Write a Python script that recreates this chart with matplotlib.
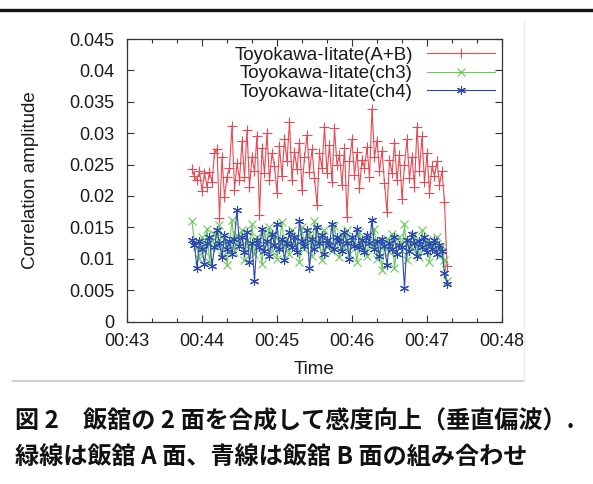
import numpy as np
import matplotlib.pyplot as plt
from matplotlib.ticker import MultipleLocator, FuncFormatter
from matplotlib.lines import Line2D

# time axis: first sample 00:43:52, one sample every 2 s
t_start = 43 * 60 + 52
t_step = 2

# Toyokawa-Iitate (A+B)
amp_ab = [0.0243, 0.0231, 0.0225, 0.0240, 0.0208, 0.0236, 0.0215, 0.0238, 0.0222, 0.0268,
          0.0275, 0.0165, 0.0262, 0.0198, 0.0230, 0.0245, 0.0312, 0.0210, 0.0252, 0.0226,
          0.0287, 0.0230, 0.0305, 0.0214, 0.0262, 0.0240, 0.0296, 0.0170, 0.0276, 0.0237,
          0.0300, 0.0225, 0.0268, 0.0248, 0.0205, 0.0279, 0.0232, 0.0290, 0.0255, 0.0318,
          0.0226, 0.0270, 0.0243, 0.0285, 0.0210, 0.0262, 0.0297, 0.0238, 0.0274, 0.0229,
          0.0185, 0.0268, 0.0245, 0.0310, 0.0236, 0.0281, 0.0222, 0.0308, 0.0250, 0.0265,
          0.0218, 0.0276, 0.0167, 0.0255, 0.0290, 0.0233, 0.0270, 0.0212, 0.0258, 0.0245,
          0.0278, 0.0230, 0.0339, 0.0262, 0.0288, 0.0240, 0.0272, 0.0220, 0.0175, 0.0258,
          0.0236, 0.0284, 0.0225, 0.0266, 0.0195, 0.0250, 0.0290, 0.0228, 0.0262, 0.0215,
          0.0310, 0.0240, 0.0295, 0.0222, 0.0268, 0.0205, 0.0247, 0.0232, 0.0255, 0.0218,
          0.0240, 0.0190, 0.0088]

# Toyokawa-Iitate (ch3)
amp_ch3 = [0.0160, 0.0125, 0.0118, 0.0100, 0.0135, 0.0112, 0.0148, 0.0095, 0.0128, 0.0140,
           0.0118, 0.0153, 0.0105, 0.0132, 0.0090, 0.0125, 0.0162, 0.0110, 0.0138, 0.0122,
           0.0145, 0.0098, 0.0130, 0.0115, 0.0155, 0.0108, 0.0135, 0.0120, 0.0092, 0.0142,
           0.0125, 0.0150, 0.0112, 0.0138, 0.0100, 0.0128, 0.0158, 0.0118, 0.0132, 0.0108,
           0.0145, 0.0122, 0.0135, 0.0095, 0.0150, 0.0115, 0.0128, 0.0140, 0.0105, 0.0160,
           0.0120, 0.0133, 0.0098, 0.0146, 0.0118, 0.0130, 0.0112, 0.0152, 0.0125, 0.0102,
           0.0138, 0.0118, 0.0145, 0.0108, 0.0130, 0.0122, 0.0095, 0.0142, 0.0115, 0.0128,
           0.0105, 0.0135, 0.0120, 0.0148, 0.0100, 0.0126, 0.0082, 0.0118, 0.0132, 0.0110,
           0.0140, 0.0085, 0.0122, 0.0135, 0.0112, 0.0155, 0.0098, 0.0128, 0.0116, 0.0138,
           0.0120, 0.0102, 0.0145, 0.0115, 0.0130, 0.0095, 0.0125, 0.0112, 0.0135, 0.0105,
           0.0120, 0.0098, 0.0065]

# Toyokawa-Iitate (ch4)
amp_ch4 = [0.0130, 0.0122, 0.0085, 0.0128, 0.0115, 0.0092, 0.0125, 0.0135, 0.0088, 0.0118,
           0.0145, 0.0125, 0.0102, 0.0138, 0.0115, 0.0128, 0.0108, 0.0132, 0.0178, 0.0120,
           0.0135, 0.0110, 0.0142, 0.0095, 0.0125, 0.0065, 0.0130, 0.0118, 0.0148, 0.0112,
           0.0128, 0.0105, 0.0140, 0.0122, 0.0155, 0.0115, 0.0132, 0.0098, 0.0125, 0.0142,
           0.0118, 0.0135, 0.0110, 0.0160, 0.0128, 0.0120, 0.0145, 0.0085, 0.0132, 0.0115,
           0.0150, 0.0125, 0.0138, 0.0108, 0.0130, 0.0122, 0.0155, 0.0115, 0.0135, 0.0128,
           0.0112, 0.0142, 0.0125, 0.0100, 0.0135, 0.0120, 0.0148, 0.0118, 0.0130, 0.0110,
           0.0138, 0.0125, 0.0162, 0.0115, 0.0128, 0.0105, 0.0132, 0.0120, 0.0090, 0.0125,
           0.0115, 0.0135, 0.0108, 0.0122, 0.0118, 0.0054, 0.0130, 0.0112, 0.0140, 0.0125,
           0.0105, 0.0128, 0.0118, 0.0135, 0.0110, 0.0125, 0.0115, 0.0130, 0.0108, 0.0122,
           0.0112, 0.0078, 0.0060]

labels = ['Toyokawa-Iitate(A+B)', 'Toyokawa-Iitate(ch3)', 'Toyokawa-Iitate(ch4)']
caption1 = '図 2　飯舘の 2 面を合成して感度向上（垂直偏波）.'
caption2 = '緑線は飯舘 A 面、青線は飯舘 B 面の組み合わせ'

t = t_start + t_step * np.arange(len(amp_ab))

plt.rcParams['font.family'] = ['Liberation Sans', 'DejaVu Sans']

fig = plt.figure(figsize=(5.93, 4.84), dpi=100)
W, H = 593, 484
ax = fig.add_axes([127 / W, 1 - 321.5 / H, (502 - 127) / W, (321.5 - 39) / H])

asterisk = (6, 2, 0)
ax.plot(t, amp_ab, color='#e84a52', lw=0.8, marker='+', ms=7, mew=0.8, label=labels[0])
ax.plot(t, amp_ch3, color='#6ac85a', lw=0.8, marker='x', ms=5.5, mew=0.8, label=labels[1])
ax.plot(t, amp_ch4, color='#2c48b4', lw=0.8, marker=asterisk, ms=6.5, mew=0.8, label=labels[2])

ax.set_xlim(43 * 60, 48 * 60)
ax.set_ylim(0, 0.045)
ax.xaxis.set_major_locator(MultipleLocator(60))
ax.xaxis.set_minor_locator(MultipleLocator(20))
ax.xaxis.set_major_formatter(FuncFormatter(lambda v, p: '00:%02d' % round(v / 60)))
ax.yaxis.set_major_locator(MultipleLocator(0.005))
ax.yaxis.set_major_formatter(FuncFormatter(lambda v, p: '0' if abs(v) < 1e-9 else ('%.3f' % v).rstrip('0')))

ax.tick_params(which='both', direction='in', top=True, right=True, labelsize=13,
               color='#333333', labelcolor='#1a1a1a')
ax.tick_params(which='major', length=5, width=0.8)
ax.tick_params(which='minor', length=3, width=0.8)
ax.tick_params(axis='x', pad=8)
ax.tick_params(axis='y', pad=9)
for s in ax.spines.values():
    s.set_color('#333333')
    s.set_linewidth(0.9)

ax.set_xlabel('Time', fontsize=13.5, labelpad=8, color='#1a1a1a')
ax.set_ylabel('Correlation amplitude', fontsize=13.5, labelpad=22, color='#1a1a1a')

leg = ax.legend(loc='upper right', frameon=False, markerfirst=False, fontsize=13.5,
                handlelength=3.6, handletextpad=0.75, labelspacing=0.08,
                borderaxespad=0.15, borderpad=0.25)
for txt in leg.get_texts():
    txt.set_ha('right')
    txt.set_color('#1a1a1a')
leg._legend_box.align = 'right'

# page decoration: top rule, image border, caption
fig.add_artist(Line2D([0, 1], [1 - 9.5 / H, 1 - 9.5 / H], color='#111111', lw=2.4))
fig.add_artist(Line2D([13 / W, 524 / W], [1 - 381 / H, 1 - 381 / H], color='#cfcfcf', lw=1.5))
fig.add_artist(Line2D([524 / W, 524 / W], [1 - 20 / H, 1 - 381 / H], color='#ececec', lw=1.0))

fig.text(15 / W, 1 - 422 / H, caption1, fontsize=17.4, fontweight='bold', va='center',
         family=['Noto Sans CJK JP', 'DejaVu Sans'], color='#111111')
fig.text(15 / W, 1 - 458 / H, caption2, fontsize=17.4, fontweight='bold', va='center',
         family=['Noto Sans CJK JP', 'DejaVu Sans'], color='#111111')

fig.savefig('out.png', dpi=100)
